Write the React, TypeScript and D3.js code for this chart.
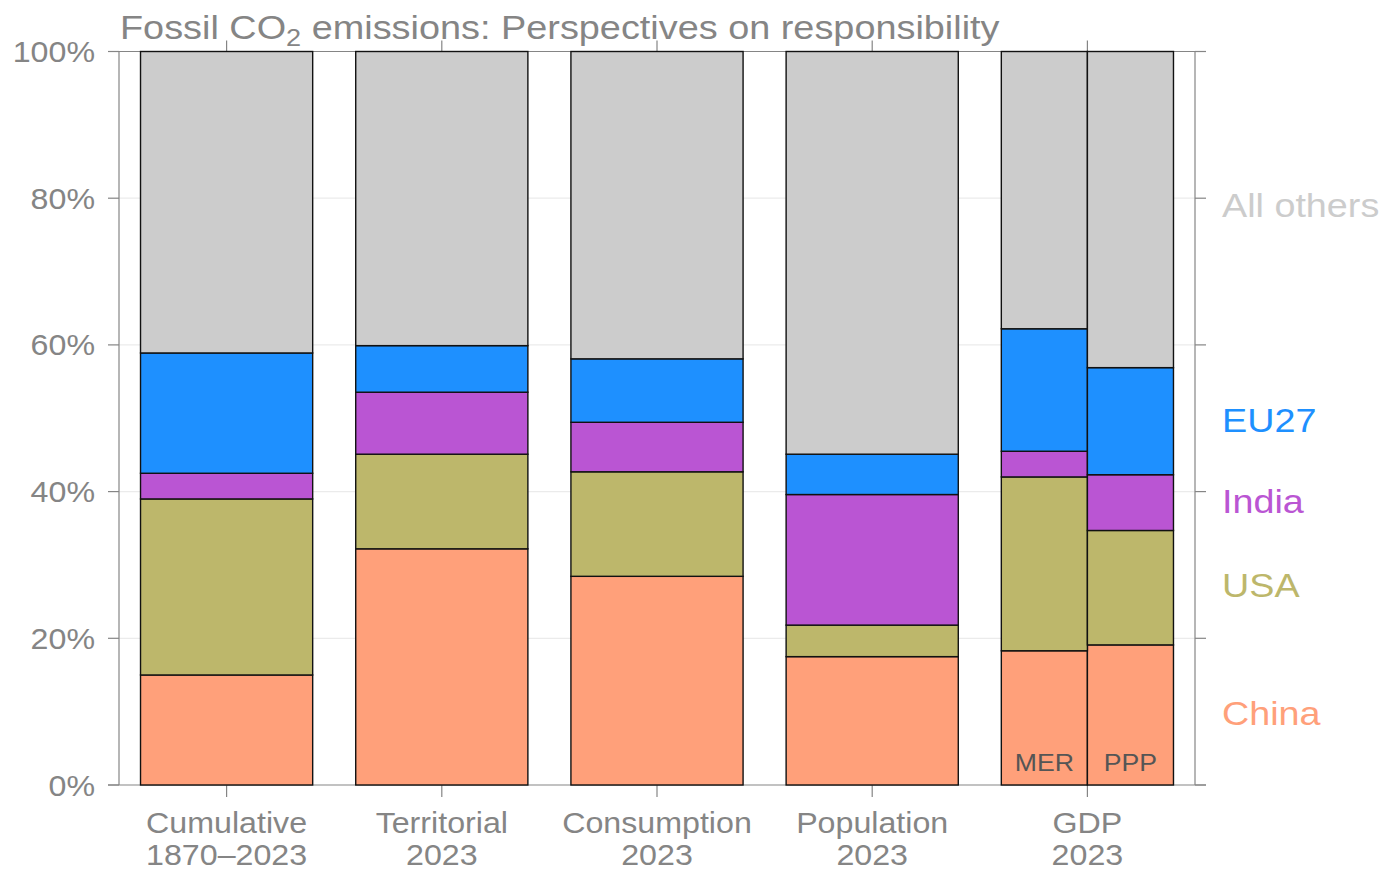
import React from "react";
import * as d3 from "d3";

const categories = ["Cumulative\n1870–2023", "Territorial\n2023", "Consumption\n2023", "Population\n2023", "GDP\n2023"];
// Each bar: which category it sits in, and its sub-label
const barCategory = [0, 1, 2, 3, 4, 4];
const barSub = ["", "", "", "", "MER", "PPP"];
const regions = ["China", "USA", "India", "EU27", "All others"];
const china = [15.0, 32.2, 28.45, 17.5, 18.3, 19.1];
const usa = [24.0, 12.9, 14.25, 4.3, 23.7, 15.6];
const india = [3.5, 8.45, 6.75, 17.8, 3.5, 7.6];
const eu27 = [16.4, 6.35, 8.65, 5.5, 16.7, 14.6];
const others = [41.1, 40.1, 41.9, 54.9, 37.8, 43.1];
const regionColors = ["#ffa07a", "#bdb76b", "#ba55d3", "#1e90ff", "#cccccc"];
const yTicks = [0, 20, 40, 60, 80, 100];
const labelY = [9.8, 27.3, 38.7, 49.8, 79.1]; // right-hand legend positions (% of axis)

const W = 1383;
const H = 870;
const L = 119;
const R = 1195;
const FONT = "'Liberation Sans', Arial, Helvetica, sans-serif";
const GREY = "#858585";
const SX = 1.11;

function T({ x, y, anchor = "start", size, fill, children }: any) {
  return (
    <text transform={`translate(${x},${y}) scale(${SX},1)`} textAnchor={anchor} fontSize={size} fill={fill}>
      {children}
    </text>
  );
}

export default function App() {
  const x = d3.scaleBand<number>().domain(d3.range(categories.length)).range([L, R]).paddingInner(0.2).paddingOuter(0.1);
  const y = d3.scaleLinear().domain([0, 100]).range([785, 51.5]);

  const rows = barCategory.map((c, i) => ({
    i,
    China: china[i],
    USA: usa[i],
    India: india[i],
    EU27: eu27[i],
    "All others": others[i],
  }));
  const stack = d3.stack<any>().keys(regions);
  const series = stack(rows);

  const barX = (i: number) => {
    const c = barCategory[i];
    const n = barCategory.filter((v) => v === c).length;
    const k = barCategory.slice(0, i).filter((v) => v === c).length;
    const w = x.bandwidth() / n;
    return { x0: (x(c) as number) + k * w, w };
  };

  return (
    <svg width={W} height={H} style={{ position: "absolute", left: 0, top: 0, background: "#fff" }} fontFamily={FONT}>
      {/* gridlines */}
      {yTicks.filter((t) => t > 0 && t < 100).map((t) => (
        <line key={"g" + t} x1={L} x2={R} y1={y(t)} y2={y(t)} stroke="#ebebeb" strokeWidth={1.2} />
      ))}
      {/* frame */}
      <line x1={L} x2={L} y1={y(100)} y2={y(0)} stroke={GREY} strokeWidth={1.2} />
      <line x1={R} x2={R} y1={y(100)} y2={y(0)} stroke={GREY} strokeWidth={1.2} />
      <line x1={L - 11} x2={R + 11} y1={y(0)} y2={y(0)} stroke={GREY} strokeWidth={1.2} />
      <line x1={L - 11} x2={R + 11} y1={y(100)} y2={y(100)} stroke={GREY} strokeWidth={1.2} />
      {/* y ticks */}
      {yTicks.map((t) => (
        <g key={"t" + t}>
          <line x1={L - 11} x2={L} y1={y(t)} y2={y(t)} stroke={GREY} strokeWidth={1.2} />
          <line x1={R} x2={R + 11} y1={y(t)} y2={y(t)} stroke={GREY} strokeWidth={1.2} />
          <T x={95} y={y(t) + 10.5} anchor="end" size={29} fill={GREY}>
            {t}%
          </T>
        </g>
      ))}
      {/* x ticks */}
      {categories.map((c, i) => {
        const cx = (x(i) as number) + x.bandwidth() / 2;
        const lines = c.split("\n");
        return (
          <g key={"x" + i}>
            <line x1={cx} x2={cx} y1={y(100) - 11} y2={y(100)} stroke={GREY} strokeWidth={1.2} />
            <line x1={cx} x2={cx} y1={y(0)} y2={y(0) + 12} stroke={GREY} strokeWidth={1.2} />
            {lines.map((ln, j) => (
              <T key={j} x={cx} y={833 + j * 32} anchor="middle" size={29} fill={GREY}>
                {ln}
              </T>
            ))}
          </g>
        );
      })}
      {/* bars */}
      {series.map((s, si) => (
        <g key={s.key} fill={regionColors[si]}>
          {s.map((d, i) => {
            const { x0, w } = barX(i);
            return (
              <rect key={i} x={x0} width={w} y={y(d[1])} height={y(d[0]) - y(d[1])} stroke="#111" strokeWidth={1.4} />
            );
          })}
        </g>
      ))}
      {/* sub labels */}
      {barSub.map((s, i) => {
        if (!s) return null;
        const { x0, w } = barX(i);
        return (
          <T key={"s" + i} x={x0 + w / 2} y={771} anchor="middle" size={24} fill="#555">
            {s}
          </T>
        );
      })}
      {/* right legend */}
      {regions.map((r, i) => (
        <T key={r} x={1222} y={y(labelY[i]) + 12} size={34} fill={regionColors[i]}>
          {r}
        </T>
      ))}
      {/* title */}
      <text transform={`translate(120,39) scale(1.13,1)`} fontSize={33.5} fill={GREY}>
        Fossil CO<tspan dy={7} fontSize={24}>2</tspan>
        <tspan dy={-7}> emissions: Perspectives on responsibility</tspan>
      </text>
    </svg>
  );
}
